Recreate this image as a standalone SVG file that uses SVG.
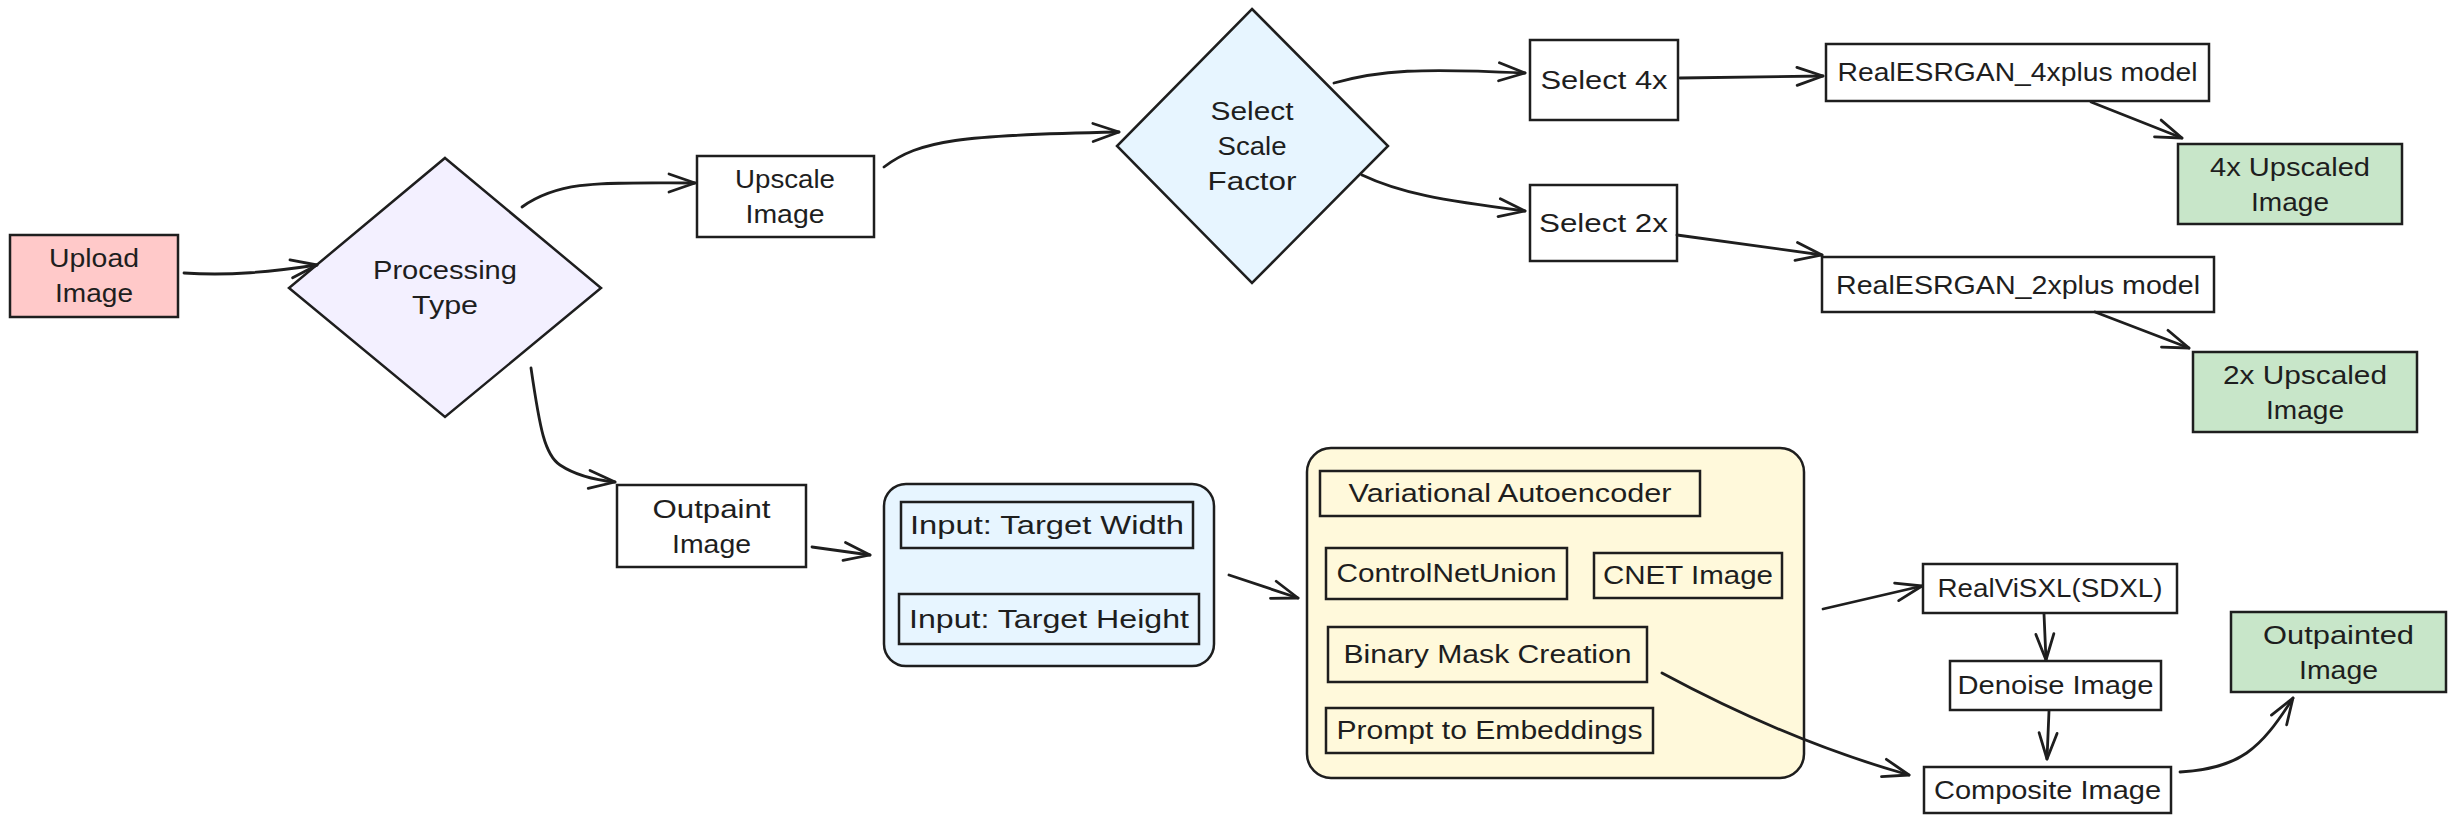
<svg xmlns="http://www.w3.org/2000/svg" width="2456" height="823" viewBox="0 0 2456 823">
<defs>
<style>
.box{stroke:#1e1e1e;stroke-width:2.5;fill:none}
.w{fill:#ffffff}
.t{font-family:"Liberation Sans",Arial,sans-serif;font-size:26px;fill:#1e1e1e;text-anchor:middle}
.c{fill:none;stroke:#1e1e1e;stroke-width:2.8;stroke-linecap:round}
</style>
<marker id="ah" markerUnits="userSpaceOnUse" markerWidth="40" markerHeight="30" viewBox="-30 -15 34 30" refX="0" refY="0" orient="auto">
<path d="M-26,-9 L0,0 L-26,9" fill="none" stroke="#1e1e1e" stroke-width="2.8" stroke-linecap="round" stroke-linejoin="round"/>
</marker>
</defs>
<rect width="2456" height="823" fill="#ffffff"/>

<g id="upload">
<rect class="box" x="10" y="235" width="168" height="82" style="fill:#ffc9c9"/>
<text class="t" x="94" y="267" textLength="90" lengthAdjust="spacingAndGlyphs">Upload</text>
<text class="t" x="94" y="302" textLength="78" lengthAdjust="spacingAndGlyphs">Image</text>
</g>

<g id="processing">
<polygon class="box" points="445,158 601,288 445,417 289,288" style="fill:#f3f0ff"/>
<text class="t" x="445" y="279" textLength="144" lengthAdjust="spacingAndGlyphs">Processing</text>
<text class="t" x="445" y="314" textLength="66" lengthAdjust="spacingAndGlyphs">Type</text>
</g>

<g id="upscale">
<rect class="box w" x="697" y="156" width="177" height="81"/>
<text class="t" x="785" y="188" textLength="100" lengthAdjust="spacingAndGlyphs">Upscale</text>
<text class="t" x="785" y="223" textLength="79" lengthAdjust="spacingAndGlyphs">Image</text>
</g>

<g id="scale-factor">
<polygon class="box" points="1252,9 1388,146 1252,283 1117,146" style="fill:#e7f5ff"/>
<text class="t" x="1252" y="120" textLength="83" lengthAdjust="spacingAndGlyphs">Select</text>
<text class="t" x="1252" y="155" textLength="69" lengthAdjust="spacingAndGlyphs">Scale</text>
<text class="t" x="1252" y="190" textLength="89" lengthAdjust="spacingAndGlyphs">Factor</text>
</g>

<g id="select4x">
<rect class="box w" x="1530" y="40" width="148" height="80"/>
<text class="t" x="1604" y="89" textLength="127" lengthAdjust="spacingAndGlyphs">Select 4x</text>
</g>

<g id="select2x">
<rect class="box w" x="1530" y="185" width="147" height="76"/>
<text class="t" x="1603.5" y="232" textLength="129" lengthAdjust="spacingAndGlyphs">Select 2x</text>
</g>

<g id="model4x">
<rect class="box w" x="1826" y="44" width="383" height="57"/>
<text class="t" x="2017.5" y="81" textLength="360" lengthAdjust="spacingAndGlyphs">RealESRGAN_4xplus model</text>
</g>

<g id="upscaled4x">
<rect class="box" x="2178" y="144" width="224" height="80" style="fill:#c8e6c9"/>
<text class="t" x="2290" y="175.5" textLength="160" lengthAdjust="spacingAndGlyphs">4x Upscaled</text>
<text class="t" x="2290" y="210.5" textLength="78" lengthAdjust="spacingAndGlyphs">Image</text>
</g>

<g id="model2x">
<rect class="box w" x="1822" y="257" width="392" height="55"/>
<text class="t" x="2018" y="293.5" textLength="364" lengthAdjust="spacingAndGlyphs">RealESRGAN_2xplus model</text>
</g>

<g id="upscaled2x">
<rect class="box" x="2193" y="352" width="224" height="80" style="fill:#c8e6c9"/>
<text class="t" x="2305" y="383.5" textLength="164" lengthAdjust="spacingAndGlyphs">2x Upscaled</text>
<text class="t" x="2305" y="418.5" textLength="78" lengthAdjust="spacingAndGlyphs">Image</text>
</g>

<g id="outpaint">
<rect class="box w" x="617" y="485" width="189" height="82"/>
<text class="t" x="711.5" y="517.5" textLength="118" lengthAdjust="spacingAndGlyphs">Outpaint</text>
<text class="t" x="711.5" y="552.5" textLength="79" lengthAdjust="spacingAndGlyphs">Image</text>
</g>

<g id="inputs-group">
<rect class="box" x="884" y="484" width="330" height="182" rx="22" ry="22" style="fill:#e7f5ff"/>
</g>

<g id="target-width">
<rect class="box" x="901" y="502" width="292" height="46"/>
<text class="t" x="1047" y="534" textLength="274" lengthAdjust="spacingAndGlyphs">Input: Target Width</text>
</g>

<g id="target-height">
<rect class="box" x="899" y="594" width="300" height="50"/>
<text class="t" x="1049" y="628" textLength="280" lengthAdjust="spacingAndGlyphs">Input: Target Height</text>
</g>

<g id="pipeline-group">
<rect class="box" x="1307" y="448" width="497" height="330" rx="24" ry="24" style="fill:#fff9db"/>
</g>

<g id="vae">
<rect class="box" x="1320" y="471" width="380" height="45"/>
<text class="t" x="1510" y="502" textLength="323" lengthAdjust="spacingAndGlyphs">Variational Autoencoder</text>
</g>

<g id="controlnet">
<rect class="box" x="1326" y="548" width="241" height="51"/>
<text class="t" x="1446.5" y="582" textLength="220" lengthAdjust="spacingAndGlyphs">ControlNetUnion</text>
</g>

<g id="cnet-image">
<rect class="box" x="1594" y="553" width="188" height="45"/>
<text class="t" x="1688" y="584" textLength="170" lengthAdjust="spacingAndGlyphs">CNET Image</text>
</g>

<g id="binary-mask">
<rect class="box" x="1328" y="627" width="319" height="55"/>
<text class="t" x="1487.5" y="663" textLength="288" lengthAdjust="spacingAndGlyphs">Binary Mask Creation</text>
</g>

<g id="prompt-embeddings">
<rect class="box" x="1326" y="708" width="327" height="45"/>
<text class="t" x="1489.5" y="739" textLength="306" lengthAdjust="spacingAndGlyphs">Prompt to Embeddings</text>
</g>

<g id="realvisxl">
<rect class="box w" x="1923" y="564" width="254" height="49"/>
<text class="t" x="2050" y="597" textLength="225" lengthAdjust="spacingAndGlyphs">RealViSXL(SDXL)</text>
</g>

<g id="denoise">
<rect class="box w" x="1950" y="661" width="211" height="49"/>
<text class="t" x="2055.5" y="694" textLength="196" lengthAdjust="spacingAndGlyphs">Denoise Image</text>
</g>

<g id="composite">
<rect class="box w" x="1924" y="767" width="247" height="46"/>
<text class="t" x="2047.5" y="799" textLength="227" lengthAdjust="spacingAndGlyphs">Composite Image</text>
</g>

<g id="outpainted">
<rect class="box" x="2231" y="612" width="215" height="80" style="fill:#c8e6c9"/>
<text class="t" x="2338.5" y="643.5" textLength="151" lengthAdjust="spacingAndGlyphs">Outpainted</text>
<text class="t" x="2338.5" y="678.5" textLength="79" lengthAdjust="spacingAndGlyphs">Image</text>
</g>

<g id="connectors">
<path class="c" marker-end="url(#ah)" d="M184,273 C230,276 270,272 317,265"/>
<path class="c" marker-end="url(#ah)" d="M522,207 C560,180 600,183 695,183"/>
<path class="c" marker-end="url(#ah)" d="M531,368 C540,430 545,455 560,465 C575,475 595,480 615,482"/>
<path class="c" marker-end="url(#ah)" d="M884,167 C920,140 960,135 1119,132"/>
<path class="c" marker-end="url(#ah)" d="M1334,83 C1380,70 1420,68 1525,73"/>
<path class="c" marker-end="url(#ah)" d="M1362,175 C1400,193 1440,200 1525,211"/>
<path class="c" marker-end="url(#ah)" d="M1680,78 L1823,76"/>
<path class="c" marker-end="url(#ah)" d="M2091,102 L2182,138"/>
<path class="c" marker-end="url(#ah)" d="M1677,235 L1822,255"/>
<path class="c" marker-end="url(#ah)" d="M2095,312 L2189,348"/>
<path class="c" marker-end="url(#ah)" d="M812,547 L870,555"/>
<path class="c" marker-end="url(#ah)" d="M1229,575 L1298,598"/>
<path class="c" marker-end="url(#ah)" d="M1823,609 L1922,586"/>
<path class="c" marker-end="url(#ah)" d="M2044,614 L2046,660"/>
<path class="c" marker-end="url(#ah)" d="M2049,711 L2047,759"/>
<path class="c" marker-end="url(#ah)" d="M1662,673 C1740,715 1820,750 1909,775"/>
<path class="c" marker-end="url(#ah)" d="M2180,772 C2240,768 2260,750 2293,698"/>
</g>
</svg>
